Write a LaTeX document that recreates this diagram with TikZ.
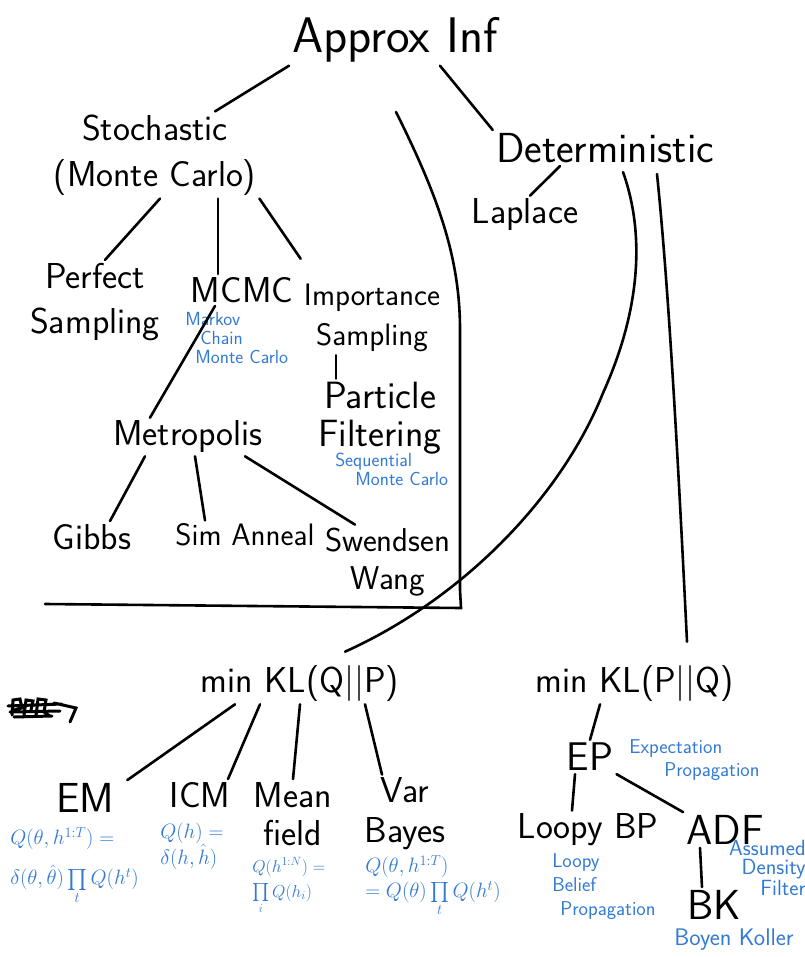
\documentclass[tikz,border=0pt]{standalone}
\usepackage{amsmath,amssymb}
\usepackage[rgb]{xcolor}
\usepackage{tikz}

\definecolor{pen}{RGB}{50,122,212}

\begin{document}
\begin{tikzpicture}[x=1pt,y=-1pt,line width=2.6pt,line cap=round,
  word/.style={inner sep=2pt,align=center,font=\sffamily\fontsize{36}{40}\selectfont},
  note/.style={inner sep=1pt,text=pen,font=\sffamily\fontsize{19}{19}\selectfont},
  mth/.style={inner sep=1pt,text=pen,align=left,anchor=west,font=\fontsize{20}{25}\selectfont}]

\path[fill=white,use as bounding box] (0,0) rectangle (804,957);

\node [word,font=\sffamily\fontsize{50}{54}\selectfont] (ai) at (395,40) {Approx Inf};
\node [word,font=\sffamily\fontsize{36}{46}\selectfont] (st) at (155,155) {Stochastic\\(Monte Carlo)};
\node [word,font=\sffamily\fontsize{42}{46}\selectfont] (de) at (605,148) {Deterministic};
\node [word] (la) at (525,215) {Laplace};
\node [word,font=\sffamily\fontsize{36}{45}\selectfont] (ps) at (95,302) {Perfect\\Sampling};
\node [word] (mc) at (242,290) {MCMC};
\node [note,anchor=west,align=left] (mcn) at (183,338) {Markov\\\hspace*{15pt}Chain\\\hspace*{10pt}Monte Carlo};
\node [word,font=\sffamily\fontsize{31}{40}\selectfont] (is) at (372,318) {Importance\\Sampling};
\node [word,font=\sffamily\fontsize{38}{38}\selectfont] (pf) at (380,418) {Particle\\Filtering};
\node [note,anchor=west,align=left] (pfn) at (333,469) {Sequential\\\hspace*{20pt}Monte Carlo};
\node [word] (me) at (188,437) {Metropolis};
\node [word] (gi) at (92,537) {Gibbs};
\node [word,font=\sffamily\fontsize{31}{36}\selectfont] (sa) at (245,535) {Sim Anneal};
\node [word,font=\sffamily\fontsize{33}{38}\selectfont] (sw) at (388,562) {Swendsen\\Wang};

\node [word] (kq) at (300,683) {min KL(Q||P)};
\node [word] (kp) at (635,683) {min KL(P||Q)};
\node [word,font=\sffamily\fontsize{42}{46}\selectfont] (em) at (85,798) {EM};
\node [word] (icm) at (200,795) {ICM};
\node [word,font=\sffamily\fontsize{36}{38}\selectfont] (mf) at (293,814) {Mean\\field};
\node [word,font=\sffamily\fontsize{36}{40}\selectfont] (vb) at (405,814) {Var\\Bayes};
\node [word,font=\sffamily\fontsize{40}{44}\selectfont] (ep) at (590,757) {EP};
\node [word] (lbp) at (588,830) {Loopy BP};
\node [word,font=\sffamily\fontsize{42}{46}\selectfont] (adf) at (725,830) {ADF};
\node [word,font=\sffamily\fontsize{42}{46}\selectfont] (bk) at (714,905) {BK};

\node [mth,font=\fontsize{21}{40}\selectfont] (emn) at (8,866) {$Q(\theta,h^{1:T})=$\\$\delta(\theta,\hat\theta)\prod\limits_t Q(h^t)$};
\node [mth] (icmn) at (158,846) {$Q(h)=$\\$\delta(h,\hat h)$};
\node [mth,font=\fontsize{18}{25}\selectfont] (mfn) at (250,886) {$Q(h^{1:N})=$\\$\prod\limits_i Q(h_i)$};
\node [mth] (vbn) at (363,886) {$Q(\theta,h^{1:T})$\\$=Q(\theta)\prod\limits_t Q(h^t)$};
\node [note,anchor=west,align=left,font=\sffamily\fontsize{20}{23}\selectfont] (epn) at (627,760) {Expectation\\\hspace*{35pt}Propagation};
\node [note,anchor=west,align=left,font=\sffamily\fontsize{20}{24}\selectfont] (lbpn) at (550,887) {Loopy\\Belief\\\hspace*{8pt}Propagation};
\node [note,anchor=east,align=right,font=\sffamily\fontsize{22}{19}\selectfont] (adfn) at (808,868) {Assumed\\Density\\Filter};
\node [note,font=\sffamily\fontsize{24}{26}\selectfont] (bkn) at (734,940) {Boyen Koller};

\draw (ai.south west) -- ([xshift=60pt]st.north);
\draw ([xshift=45pt]ai.south) -- (de.north west);
\draw ([xshift=5pt]st.south) -- ([xshift=10pt]ps.north);
\draw ([xshift=63pt]st.south) -- ([xshift=-24pt]mc.north);
\draw (st.south east) -- ([yshift=22pt]is.north west);
\draw ([xshift=-45pt]de.south) -- ([xshift=5pt]la.north);
\draw ([xshift=-36pt]is.south) -- ([xshift=-44pt]pf.north);
\draw ([xshift=-27pt]mc.south) -- ([xshift=-38pt]me.north);
\draw ([xshift=-43pt]me.south) -- ([xshift=18pt]gi.north);
\draw ([xshift=7pt]me.south) -- ([xshift=-40pt]sa.north);
\draw ([xshift=57pt]me.south) -- ([xshift=-33pt]sw.north);

\draw (396,112) .. controls (440,200) and (460,260) .. (460,330) -- (460,590) -- (461,608) -- (45,604);

\draw ([xshift=18pt,yshift=-6pt]de.south) .. controls (642,225) and (645,300) .. (603,393)
  .. controls (560,500) and (460,600) .. ([xshift=45pt,yshift=10pt]kq.north);
\draw ([xshift=52pt,yshift=-8pt]de.south) .. controls (670,300) and (680,500) .. ([xshift=52pt,yshift=20pt]kp.north);

\draw ([xshift=-65pt]kq.south) -- ([xshift=10pt]em.north east);
\draw ([xshift=-40pt]kq.south) -- ([xshift=28pt]icm.north);
\draw (kq.south) -- (mf.north);
\draw ([xshift=65pt]kq.south) -- ([xshift=-23pt]vb.north);
\draw ([xshift=-35pt]kp.south) -- (ep.north);
\draw ([xshift=-15pt]ep.south) -- ([xshift=-16pt]lbp.north);
\draw (ep.south east) -- (adf.north west);
\draw ([xshift=-25pt]adf.south) -- ([xshift=-12pt]bk.north);

\draw [line width=3pt] (12,715) -- (13,700) -- (20,699) -- (22,708) -- (14,710)
  (24,716) -- (26,700) -- (33,701) -- (31,710) (36,716) -- (38,699) -- (46,700) -- (44,712) -- (50,716)
  (8,706) -- (62,704) (10,712) -- (60,711) (14,717) -- (52,716) (54,703) -- (76,708) -- (70,722);
\end{tikzpicture}
\end{document}
